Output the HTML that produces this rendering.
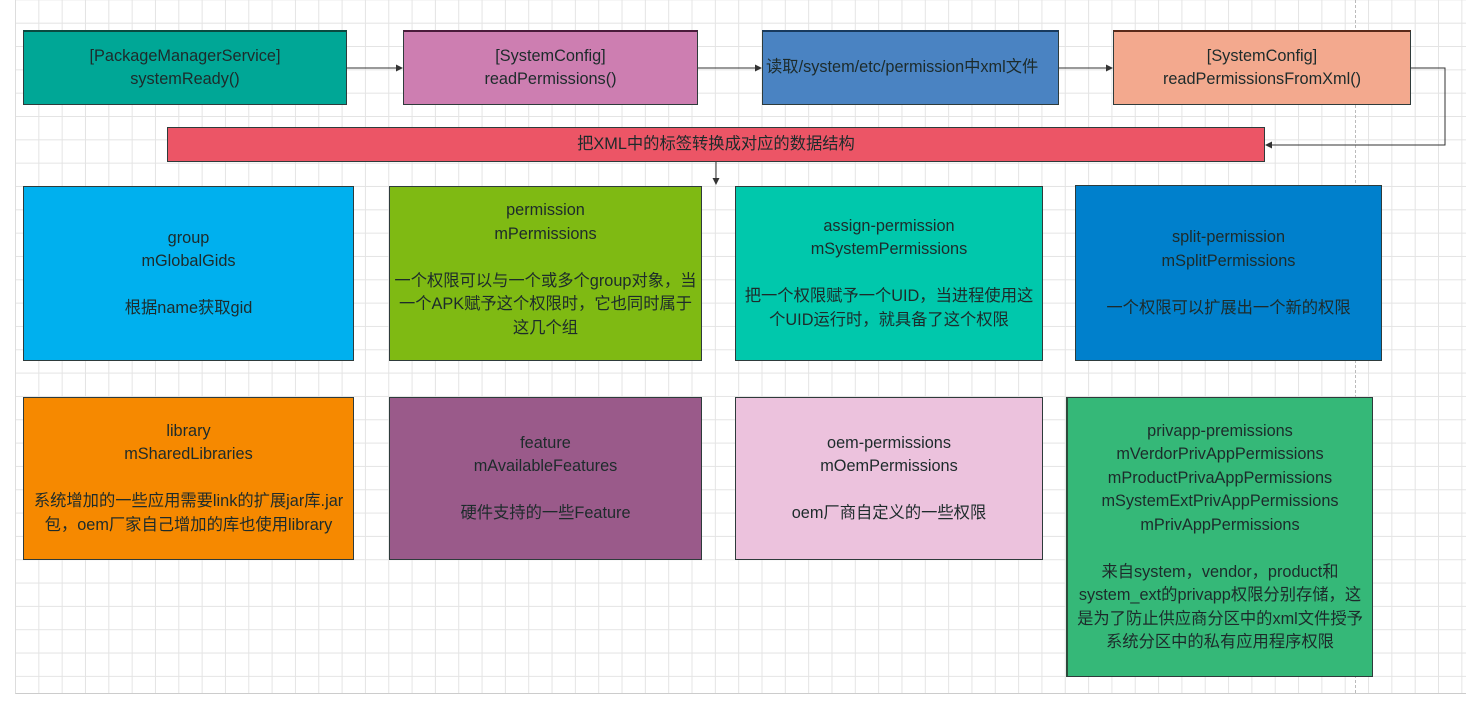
<!DOCTYPE html>
<html><head><meta charset="utf-8"><style>
html,body{margin:0;padding:0;width:1466px;height:710px;overflow:hidden;background:#fff}
.grid{position:absolute;left:15px;top:0;width:1451px;height:693px;
background-image:linear-gradient(to right,#e4e4e4 1px,transparent 1px),linear-gradient(to bottom,#e4e4e4 1px,transparent 1px);
background-size:23.33px 23.33px;background-position:-1px 22.7px;border-bottom:1px solid #ccc;border-left:1px solid #ddd}
.b{position:absolute;box-sizing:border-box;border:1px solid #2e3b3b;display:flex;align-items:center;justify-content:center;text-align:center;
font-family:"Liberation Sans","Noto Sans CJK SC",sans-serif;font-size:16.3px;line-height:23.5px;color:#1d2b2b;white-space:nowrap}
svg{position:absolute;left:0;top:0}
</style></head><body>
<div class="grid"></div>
<div style="position:absolute;left:1355px;top:0;height:693px;border-left:1px dashed #bbb"></div>
<div class="b" style="left:23px;top:30px;width:324px;height:75px;background:#00a796;border-top:2px solid #0a4a40">[PackageManagerService]<br>systemReady()</div>
<div class="b" style="left:403px;top:30px;width:295px;height:75px;background:#cd7eb1;border-top:2px solid #4a1b3b">[SystemConfig]<br>readPermissions()</div>
<div class="b" style="left:762px;top:30px;width:297px;height:75px;background:#4a83c2;border-top:2px solid #183a5e;justify-content:flex-start;padding-left:3px">读取/system/etc/permission中xml文件</div>
<div class="b" style="left:1113px;top:30px;width:298px;height:75px;background:#f3a98e;border-top:2px solid #5a2a1a">[SystemConfig]<br>readPermissionsFromXml()</div>
<div class="b" style="left:167px;top:127px;width:1098px;height:35px;background:#ec5566">把XML中的标签转换成对应的数据结构</div>
<div class="b" style="left:23px;top:186px;width:331px;height:175px;background:#00b0ee">group<br>mGlobalGids<br><br>根据name获取gid</div>
<div class="b" style="left:389px;top:186px;width:313px;height:175px;background:#7fba13;padding-bottom:8px">permission<br>mPermissions<br><br>一个权限可以与一个或多个group对象，当<br>一个APK赋予这个权限时，它也同时属于<br>这几个组</div>
<div class="b" style="left:735px;top:186px;width:308px;height:175px;background:#00c8ac">assign-permission<br>mSystemPermissions<br><br>把一个权限赋予一个UID，当进程使用这<br>个UID运行时，就具备了这个权限</div>
<div class="b" style="left:1075px;top:185px;width:307px;height:176px;background:#0080cc">split-permission<br>mSplitPermissions<br><br>一个权限可以扩展出一个新的权限</div>
<div class="b" style="left:23px;top:397px;width:331px;height:163px;background:#f68900">library<br>mSharedLibraries<br><br>系统增加的一些应用需要link的扩展jar库.jar<br>包，oem厂家自己增加的库也使用library</div>
<div class="b" style="left:389px;top:397px;width:313px;height:163px;background:#9a5a8a">feature<br>mAvailableFeatures<br><br>硬件支持的一些Feature</div>
<div class="b" style="left:735px;top:397px;width:308px;height:163px;background:#ecc2dd">oem-permissions<br>mOemPermissions<br><br>oem厂商自定义的一些权限</div>
<div class="b" style="left:1066px;top:397px;width:307px;height:280px;background:#35b878;border-left:2px solid #2c4a3a">privapp-premissions<br>mVerdorPrivAppPermissions<br>mProductPrivaAppPermissions<br>mSystemExtPrivAppPermissions<br>mPrivAppPermissions<br><br>来自system，vendor，product和<br>system_ext的privapp权限分别存储，这<br>是为了防止供应商分区中的xml文件授予<br>系统分区中的私有应用程序权限</div>
<svg width="1466" height="710">
<g stroke="#333" stroke-width="1" fill="none">
<line x1="347" y1="68" x2="398" y2="68"/>
<line x1="698" y1="68" x2="757" y2="68"/>
<line x1="1059" y1="68" x2="1108" y2="68"/>
<polyline points="1411,68 1445,68 1445,145 1270,145"/>
<line x1="716" y1="162" x2="716" y2="180"/>
</g>
<g fill="#333">
<polygon points="403,68 396,64.5 396,71.5"/>
<polygon points="762,68 755,64.5 755,71.5"/>
<polygon points="1113,68 1106,64.5 1106,71.5"/>
<polygon points="1265,145 1272,141.5 1272,148.5"/>
<polygon points="716,185 712.5,178 719.5,178"/>
</g>
</svg>
</body></html>
